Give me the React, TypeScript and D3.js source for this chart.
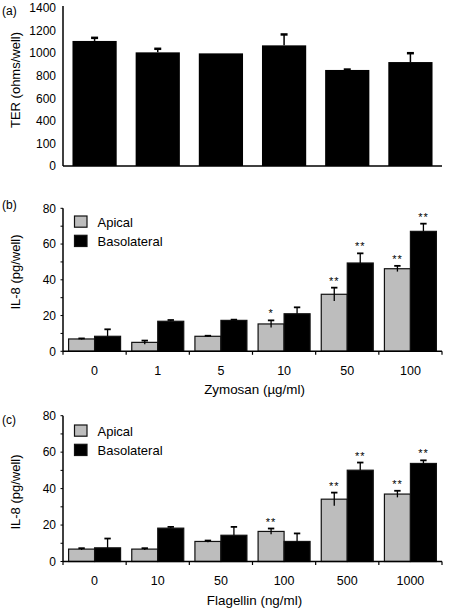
import React from 'react';
import * as d3 from 'd3';

const FONT = '"Liberation Sans", Arial, Helvetica, sans-serif';
const GRAY = '#bdbdbd';

// ---------- Panel (a): TER ----------
const terValues = [1108, 1007, 998, 1069, 851, 921];
const terErrors = [32, 36, 0, 101, 8, 83];
const terTickValues = [0, 200, 400, 600, 800, 1000, 1200, 1400];
const terTickLabels = ['0', '100', '400', '600', '800', '1000', '1200', '1400'];

// ---------- Shared IL-8 axis ----------
const seriesNames = ['Apical', 'Basolateral'];
const il8TickValues = [0, 20, 40, 60, 80];
const il8MinorTicks = [0, 10, 20, 30, 40, 50, 60, 70, 80];

// ---------- Panel (b): Zymosan ----------
const zymosanDoses = ['0', '1', '5', '10', '50', '100'];
const zymApical = [6.9, 5.0, 8.4, 15.3, 31.9, 46.2];
const zymApicalErr = [0.3, 1.0, 0.3, 2.0, 3.7, 1.6];
const zymBaso = [8.4, 16.8, 17.3, 21.0, 49.4, 67.1];
const zymBasoErr = [3.9, 0.7, 0.4, 3.6, 5.4, 4.3];
const zymStarsApical = ['', '', '', '*', '**', '**'];
const zymStarsBaso = ['', '', '', '', '**', '**'];

// ---------- Panel (c): Flagellin ----------
const flagDoses = ['0', '10', '50', '100', '500', '1000'];
const flagApical = [6.8, 6.8, 11.0, 16.5, 34.2, 37.0];
const flagApicalErr = [0.5, 0.5, 0.5, 1.6, 3.6, 1.8];
const flagBaso = [7.5, 18.3, 14.4, 11.0, 50.1, 53.8];
const flagBasoErr = [5.1, 0.7, 4.6, 4.4, 4.2, 1.7];
const flagStarsApical = ['', '', '', '**', '**', '**'];
const flagStarsBaso = ['', '', '', '', '**', '**'];

const X_LEFT = 63;
const X_RIGHT = 442;

function TerPanel() {
  const x = d3
    .scaleBand<number>()
    .domain(d3.range(terValues.length))
    .range([X_LEFT, X_RIGHT])
    .paddingInner(0.3)
    .paddingOuter(0.15);
  const y = d3.scaleLinear().domain([0, 1400]).range([166, 8]);
  return (
    <g>
      <text x={2} y={15} fontSize={12}>(a)</text>
      <text
        transform={`translate(19.5, 80) rotate(-90)`}
        textAnchor="middle"
        fontSize={13}
      >
        TER (ohms/well)
      </text>
      {terTickValues.map((v, i) => (
        <text key={v} x={56} y={y(v)} dy="0.36em" textAnchor="end" fontSize={12}>
          {terTickLabels[i]}
        </text>
      ))}
      {terValues.map((v, i) => {
        const bx = x(i)!;
        const cx = bx + x.bandwidth() / 2;
        const e = terErrors[i];
        return (
          <g key={i}>
            <rect x={bx} y={y(v)} width={x.bandwidth()} height={y(0) - y(v)} fill="#000" />
            {e > 0 && (
              <g stroke="#000">
                <line x1={cx} x2={cx} y1={y(v)} y2={y(v + e)} strokeWidth={1.5} />
                <line x1={cx - 3.5} x2={cx + 3.5} y1={y(v + e) + 0.5} y2={y(v + e) + 0.5} strokeWidth={2.5} />
              </g>
            )}
          </g>
        );
      })}
      <line x1={X_LEFT} x2={X_LEFT} y1={y(1400) - 2} y2={y(0)} stroke="#000" strokeWidth={1.5} />
      <line x1={X_LEFT} x2={X_RIGHT} y1={y(0)} y2={y(0)} stroke="#000" strokeWidth={1.5} />
    </g>
  );
}

type IL8Props = {
  label: string;
  doses: string[];
  apical: number[];
  apicalErr: number[];
  baso: number[];
  basoErr: number[];
  starsA: string[];
  starsB: string[];
  xTitle: string;
  yBottom: number;
  yTop: number;
  labelY: number;
  yTitleY: number;
  tickLabelY: number;
  xTitleY: number;
  legendY: number;
};

function ErrorBar({ cx, yHi, yLo }: { cx: number; yHi: number; yLo?: number }) {
  return (
    <g stroke="#000">
      <line x1={cx} x2={cx} y1={yHi} y2={yLo} strokeWidth={1.3} />
      <line x1={cx - 3.2} x2={cx + 3.2} y1={yHi} y2={yHi} strokeWidth={1.8} />
    </g>
  );
}

function IL8Panel(p: IL8Props) {
  const x0 = d3.scaleBand<string>().domain(p.doses).range([X_LEFT, X_RIGHT]).padding(0);
  const x1 = d3
    .scaleBand<string>()
    .domain(seriesNames)
    .range([0, x0.bandwidth()])
    .paddingInner(0)
    .paddingOuter(0.215);
  const y = d3.scaleLinear().domain([0, 80]).range([p.yBottom, p.yTop]);
  const bw = x1.bandwidth();
  const boundaries = p.doses.map((d) => x0(d)!).concat([X_RIGHT]);
  const seriesData = [
    { name: 'Apical', vals: p.apical, errs: p.apicalErr, stars: p.starsA, fill: GRAY, both: true },
    { name: 'Basolateral', vals: p.baso, errs: p.basoErr, stars: p.starsB, fill: '#000', both: false },
  ];
  return (
    <g>
      <text x={2} y={p.labelY} fontSize={12}>{p.label}</text>
      <text
        transform={`translate(19.5, ${p.yTitleY}) rotate(-90)`}
        textAnchor="middle"
        fontSize={13}
      >
        IL-8 (pg/well)
      </text>
      {il8TickValues.map((v) => (
        <text key={v} x={56} y={y(v)} dy="0.36em" textAnchor="end" fontSize={12}>
          {v}
        </text>
      ))}
      {il8MinorTicks.map((v) => (
        <line key={v} x1={X_LEFT - 2.5} x2={X_LEFT} y1={y(v)} y2={y(v)} stroke="#000" strokeWidth={1} />
      ))}
      {seriesData.map((s) =>
        p.doses.map((d, i) => {
          const bx = x0(d)! + x1(s.name)!;
          const cx = bx + bw / 2;
          const v = s.vals[i];
          const e = s.errs[i];
          const yHi = y(v + e);
          return (
            <g key={s.name + d}>
              <rect
                x={bx}
                y={y(v)}
                width={bw}
                height={y(0) - y(v)}
                fill={s.fill}
                stroke="#111"
                strokeWidth={1.2}
              />
              <ErrorBar cx={cx} yHi={yHi} yLo={s.both ? y(v - e) : y(v)} />
              {s.stars[i] && (
                <text
                  x={cx}
                  y={yHi - 3}
                  textAnchor="middle"
                  fontSize={11}
                  letterSpacing={1}
                >
                  {s.stars[i]}
                </text>
              )}
            </g>
          );
        })
      )}
      <line x1={X_LEFT} x2={X_LEFT} y1={y(80)} y2={y(0)} stroke="#000" strokeWidth={1.5} />
      <line x1={X_LEFT} x2={X_RIGHT} y1={y(0)} y2={y(0)} stroke="#000" strokeWidth={1.5} />
      {boundaries.map((bx, i) => (
        <line key={i} x1={bx} x2={bx} y1={y(0)} y2={y(0) + 3.5} stroke="#000" strokeWidth={1.2} />
      ))}
      {p.doses.map((d) => (
        <text key={d} x={x0(d)! + x0.bandwidth() / 2} y={p.tickLabelY} textAnchor="middle" fontSize={12.5}>
          {d}
        </text>
      ))}
      <text x={(X_LEFT + X_RIGHT) / 2 + 2} y={p.xTitleY} textAnchor="middle" fontSize={13.4}>
        {p.xTitle}
      </text>
      {seriesData.map((s, i) => (
        <g key={s.name}>
          <rect
            x={74.5}
            y={p.legendY + i * 19.3}
            width={12.5}
            height={11.2}
            fill={s.fill}
            stroke="#111"
            strokeWidth={1.2}
          />
          <text x={97.5} y={p.legendY + i * 19.3 + 10.8} fontSize={13}>
            {s.name}
          </text>
        </g>
      ))}
    </g>
  );
}

export default function App() {
  return (
    <svg
      width={450}
      height={610}
      viewBox="0 0 450 610"
      style={{ position: 'absolute', left: 0, top: 0, background: '#fff' }}
      fontFamily={FONT}
    >
      <rect width={450} height={610} fill="#fff" />
      <TerPanel />
      <IL8Panel
        label="(b)"
        doses={zymosanDoses}
        apical={zymApical}
        apicalErr={zymApicalErr}
        baso={zymBaso}
        basoErr={zymBasoErr}
        starsA={zymStarsApical}
        starsB={zymStarsBaso}
        xTitle="Zymosan (µg/ml)"
        yBottom={351.3}
        yTop={208.3}
        labelY={209}
        yTitleY={272}
        tickLabelY={374.5}
        xTitleY={393.5}
        legendY={216}
      />
      <IL8Panel
        label="(c)"
        doses={flagDoses}
        apical={flagApical}
        apicalErr={flagApicalErr}
        baso={flagBaso}
        basoErr={flagBasoErr}
        starsA={flagStarsApical}
        starsB={flagStarsBaso}
        xTitle="Flagellin (ng/ml)"
        yBottom={561.5}
        yTop={415.7}
        labelY={424}
        yTitleY={492}
        tickLabelY={584.5}
        xTitleY={605}
        legendY={425}
      />
    </svg>
  );
}
